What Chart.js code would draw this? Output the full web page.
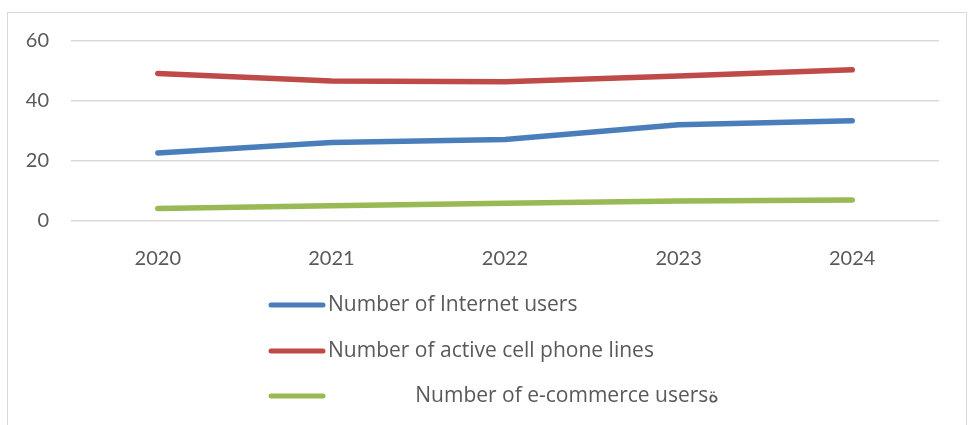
<!DOCTYPE html>
<html>
<head>
<meta charset="utf-8">
<script src="https://cdn.jsdelivr.net/npm/chart.js@4"></script>
<style>
  body { margin: 0; background: #fff; }
  #wrap { position: relative; width: 971px; height: 425px; }
  #frame { position: absolute; left: 7px; top: 12px; width: 960px; height: 430px; border: 1px solid #d9d9d9; box-sizing: border-box; }
  canvas { position: absolute; left: 0; top: 0; }
</style>
</head>
<body>
<div id="wrap">
  <div id="frame"></div>
  <canvas id="myChart" width="971" height="425"></canvas>
</div>
<script>
const years = ['2020', '2021', '2022', '2023', '2024']
const internetUsers = [22.7, 26.2, 27.2, 32.1, 33.4]
const phoneLines = [49.2, 46.7, 46.4, 48.3, 50.4]
const ecommerceUsers = [4.2, 5.1, 5.9, 6.7, 7.0]
const yTicks = [0, 20, 40, 60]
const seriesNames = ['Number of Internet users', 'Number of active cell phone lines', '                Number of e-commerce usersة']

const textColor = '#595959'
const fontFamily = 'Lato, "Open Sans", sans-serif'
const legendFont = '21px "Open Sans", Lato, sans-serif'

// legend drawn as a vertical list under the plot, like the original
const listLegend = {
  id: 'listLegend',
  afterDraw(chart) {
    const c = chart.ctx
    const rows = [305, 351, 396]
    c.save()
    chart.data.datasets.forEach((ds, i) => {
      const y = rows[i]
      c.strokeStyle = ds.borderColor
      c.lineWidth = 5
      c.lineCap = 'round'
      c.beginPath()
      c.moveTo(271, y)
      c.lineTo(323, y)
      c.stroke()
      c.fillStyle = textColor
      c.font = legendFont
      c.textAlign = 'left'
      c.textBaseline = 'middle'
      c.fillText(ds.label, 328, y)
    })
    c.restore()
  }
}

const ctx = document.getElementById('myChart')
const myChart = new Chart(ctx, {
  type: 'line',
  data: {
    labels: years,
    datasets: [
      { label: seriesNames[0], data: internetUsers, borderColor: '#4a7ebb' },
      { label: seriesNames[1], data: phoneLines, borderColor: '#be4b48' },
      { label: seriesNames[2], data: ecommerceUsers, borderColor: '#98b954' }
    ].map(d => Object.assign(d, {
      borderWidth: 5.5,
      borderCapStyle: 'round',
      borderJoinStyle: 'round',
      pointRadius: 0,
      tension: 0,
      fill: false
    }))
  },
  options: {
    responsive: false,
    animation: false,
    layout: { padding: { top: 41, right: 32, bottom: 154, left: 0 } },
    plugins: { legend: { display: false }, tooltip: { enabled: false } },
    scales: {
      x: {
        offset: true,
        grid: { display: false },
        border: { display: false },
        ticks: { color: textColor, font: { family: fontFamily, size: 20 }, padding: 18, maxRotation: 0 },
        afterFit(scale) { scale.height = 50 }
      },
      y: {
        min: 0,
        max: 60,
        afterBuildTicks(scale) { scale.ticks = yTicks.map(v => ({ value: v })) },
        grid: { color: '#d9d9d9', lineWidth: 1.5, drawTicks: false },
        border: { display: false },
        ticks: { color: textColor, font: { family: fontFamily, size: 20 }, padding: 22 },
        afterFit(scale) { scale.width = 71 }
      }
    }
  },
  plugins: [listLegend]
})
</script>
</body>
</html>
